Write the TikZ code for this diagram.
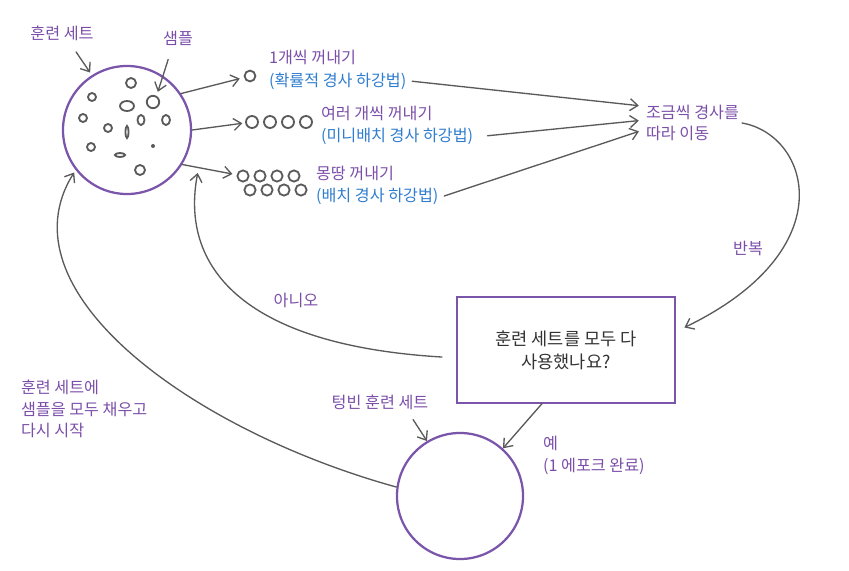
\documentclass[tikz,border=0pt]{standalone}
\usepackage{fontspec}
\setmainfont{Noto Sans CJK KR}
\usetikzlibrary{arrows.meta, positioning}
\definecolor{setPurple}{HTML}{7A55AA}
\definecolor{setText}{HTML}{7B4FA9}
\definecolor{hintBlue}{HTML}{2F7DCE}
\definecolor{arrowGray}{HTML}{5A5A5A}

\begin{document}
\begin{tikzpicture}[
    x=0.025cm, y=-0.025cm,
    setcircle/.style={circle, draw=setPurple, line width=1.6pt, inner sep=0pt},
    sample/.style={circle, draw=arrowGray, line width=1.3pt, inner sep=0pt,
                   minimum size=0.3cm},
    dot/.style={draw=arrowGray, line width=1.3pt},
    arr/.style={draw=arrowGray, line width=0.95pt, line cap=round,
                -{Straight Barb[length=5.5pt, width=8.5pt]}},
    lbl/.style={text=setText, font=\fontsize{11.5}{15.5}\selectfont,
                inner sep=2pt, align=left},
    sub/.style={text=hintBlue, font=\fontsize{11.5}{15.5}\selectfont, inner sep=2pt},
    askbox/.style={rectangle, draw=setPurple, line width=1.3pt,
                   minimum width=5.45cm, minimum height=2.63cm, align=center,
                   font=\fontsize{12.5}{16.5}\selectfont, text=black!80},
  ]
    \useasboundingbox (0,0) rectangle (849,571);

    \node[setcircle, minimum size=3.2cm] (trainset) at (127,130) {};
    \node[setcircle, minimum size=3.15cm] (emptyset) at (460,496) {};
    \node[askbox] (checkbox) at (566,350) {훈련 세트를 모두 다\\사용했나요?};

    % samples in the training set
    \foreach \px/\py/\rx/\ry in {131/83/5/5, 92/97/4/4, 127/106/7/5, 83/118/4/4,
        141/120/3.5/5, 166/120/4/5, 108/128/4/4, 127/132/1.5/6, 91/147/4/4,
        120/155/5/2, 140/170/5/5}
      \draw[dot] (\px,\py) ellipse [x radius=\rx, y radius=\ry];
    \fill[arrowGray] (153,146) circle [radius=2];
    \node[sample, minimum size=0.31cm] (pick) at (153,102) {};

    % samples taken out
    \node[sample, minimum size=0.27cm] (s1) at (250,76) {};
    \foreach \i in {1,...,4}
      \node[sample] (m\i) at ({234+18*\i},122) {};
    \foreach \i in {1,...,4} {
      \node[sample, minimum size=0.28cm] (b\i) at ({226+17*\i},176) {};
      \node[sample, minimum size=0.28cm] (c\i) at ({233+17*\i},190) {};
    }

    \node[lbl] (trainlabel) at (62,33) {훈련 세트};
    \node[lbl] (samplelabel) at (178,38) {샘플};
    \node[lbl, anchor=west] (sgdtitle) at (266,57) {1개씩 꺼내기};
    \node[sub, below=1.5pt of sgdtitle.south west, anchor=north west] (sgdsub) {(확률적 경사 하강법)};
    \node[lbl, anchor=west] (minititle) at (318,113) {여러 개씩 꺼내기};
    \node[sub, below=1.5pt of minititle.south west, anchor=north west] (minisub) {(미니배치 경사 하강법)};
    \node[lbl, anchor=west] (batchtitle) at (313,173) {몽땅 꺼내기};
    \node[sub, below=1.5pt of batchtitle.south west, anchor=north west] (batchsub) {(배치 경사 하강법)};
    \node[lbl, anchor=west] (move) at (643,123) {조금씩 경사를\\따라 이동};
    \node[lbl] (repeatlabel) at (748,248) {반복};
    \node[lbl] (nolabel) at (296,300) {아니오};
    \node[lbl, anchor=west] (refill) at (18,409) {훈련 세트에\\샘플을 모두 채우고\\다시 시작};
    \node[lbl] (emptylabel) at (380,402) {텅빈 훈련 세트};
    \node[lbl, anchor=west] (yeslabel) at (540,443) {예};
    \node[lbl, below=1.5pt of yeslabel.south west, anchor=north west] (epochlabel) {(1 에포크 완료)};

    % pointers
    \draw[arr] ([xshift=10pt,yshift=-6pt]trainlabel.south) -- ([xshift=-1pt,yshift=2pt]trainset.123);
    \draw[arr, shorten >=3pt] ([xshift=-7pt,yshift=-8pt]samplelabel.south) -- (pick.60);
    \draw[arr] ([xshift=-13pt,yshift=-5pt]emptylabel.south east) -- (emptyset.121);

    % taking samples out
    \draw[arr, shorten >=3pt] (trainset.34) -- (s1);
    \draw[arr, shorten >=2pt] (trainset.0) -- (m1);
    \draw[arr, shorten >=3pt] (trainset.-32) -- (b1);

    \draw[arr, shorten <=2pt, shorten >=3pt] (sgdsub.east) -- ([yshift=12pt]move.west);
    \draw[arr, shorten <=8pt, shorten >=3pt] (minisub.east) -- ([yshift=2pt]move.west);
    \draw[arr, shorten <=2pt, shorten >=3pt] (batchsub.east) -- ([yshift=-5pt]move.west);

    % loop
    \draw[arr] (move.east) .. controls (810,135) and (845,250) .. ([xshift=6pt,yshift=16pt]checkbox.east);
    \draw[arr] ([xshift=-10pt,yshift=-5pt]checkbox.west) .. controls (240,345) and (180,265) .. ([xshift=11pt,yshift=-6pt]trainset.-32);
    \draw[arr] ([xshift=-17pt]checkbox.south) -- (emptyset.48);
    \draw[arr, shorten >=2pt] (emptyset.172) .. controls (190,430) and (0,290) .. (trainset.218);
  \end{tikzpicture}
\end{document}
